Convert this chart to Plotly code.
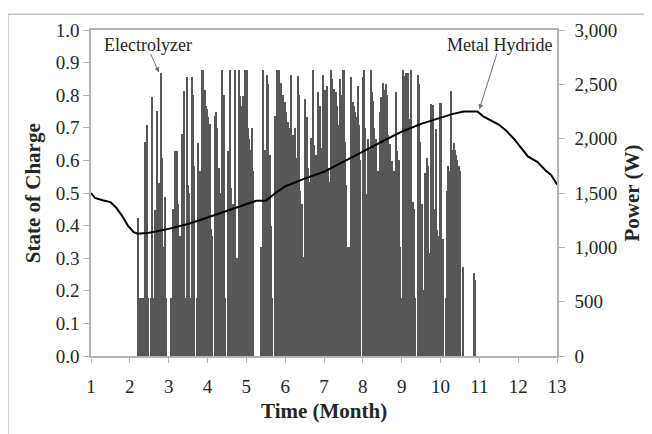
import plotly.graph_objects as go

# ---- data ----
# Metal hydride state of charge (month, SOC)
soc_month = [1.0, 1.1, 1.3, 1.5, 1.65, 1.8, 1.95, 2.1, 2.2, 2.5, 3.0, 3.5, 4.0, 4.5, 5.0,
             5.25, 5.5, 5.75, 6.0, 6.5, 7.0, 7.5, 8.0, 8.5, 9.0, 9.5, 10.0, 10.3, 10.6,
             10.95, 11.1, 11.3, 11.5, 11.7, 11.9, 12.05, 12.25, 12.5, 12.7, 12.85, 13.0]
soc_value = [0.500, 0.485, 0.478, 0.472, 0.455, 0.430, 0.400, 0.380, 0.375, 0.378, 0.390,
             0.405, 0.425, 0.445, 0.466, 0.476, 0.476, 0.500, 0.520, 0.544, 0.565, 0.595,
             0.627, 0.658, 0.688, 0.712, 0.732, 0.742, 0.750, 0.750, 0.735, 0.722, 0.710,
             0.690, 0.665, 0.642, 0.612, 0.595, 0.570, 0.555, 0.526]

# Electrolyzer power (W), one value per day starting at day 37 of the year
power_first_day = 37
power_w = [
    1267, 535, 0, 535, 535, 1966, 535, 2129, 535, 0,            # 37-46
    535, 2383, 535, 1343, 535, 2259, 1594, 535, 2600, 1820,     # 47-56
    1000, 1467, 535, 0, 0, 0, 535, 1355, 535, 1884,             # 57-66
    1884, 1400, 535, 1100, 2047, 1200, 2440, 535, 2564, 1578,   # 67-76
    1500, 535, 2570, 2400, 1748, 0, 535, 1956, 1700, 535,       # 77-86
    2628, 2628, 2450, 2300, 2274, 2200, 2138, 1170, 1100, 0,    # 87-96
    2213, 2247, 2100, 1730, 1500, 535, 2628, 2400, 535, 0,      # 97-106
    1884, 535, 2628, 1550, 1400, 1200, 2628, 900, 700, 2628,    # 107-116
    2395, 2300, 2395, 2395, 2628, 2628, 2094, 2000, 1900, 2094, # 117-126
    1700, 0, 0, 0, 0, 0, 1000, 535, 2628, 1900,                 # 127-136
    1850, 2590, 2500, 1850, 1200, 535, 0, 2213, 2150, 2628,     # 137-146
    2628, 2500, 2515, 2400, 2300, 2334, 2250, 2153, 2100, 1400, # 147-156
    2590, 2032, 1950, 2094, 1820, 2575, 2400, 1518, 1400, 914,  # 157-166
    535, 2365, 2200, 1730, 1600, 2002, 1900, 2628, 1942, 1850,  # 167-176
    1200, 2425, 2300, 1912, 1800, 2583, 2450, 1790, 2485, 1730, # 177-186
    1600, 2628, 2550, 2455, 2350, 2425, 2300, 2123, 2545, 2400, # 187-196
    2628, 2628, 1971, 1578, 1000, 1000, 535, 2564, 2334, 2300,  # 197-206
    2250, 2200, 2485, 2123, 1800, 0, 2564, 2628, 2100, 1488,    # 207-216
    2000, 1900, 2628, 2425, 2350, 2094, 2000, 535, 1700, 2247,  # 217-226
    2380, 2300, 2515, 2450, 2500, 2400, 2032, 1950, 535, 1790,  # 227-236
    1700, 1500, 2430, 1884, 1800, 1000, 535, 2628, 2300, 2575,  # 237-246
    2600, 2600, 2183, 2100, 2628, 1418, 1350, 535, 0, 2583,     # 247-256
    2500, 1971, 1400, 610, 610, 1684, 1820, 1750, 944, 2319,    # 257-266
    2250, 2310, 1349, 2088, 1155, 1100, 2325, 2325, 1080, 1080, # 267-276
    0, 535, 1518, 1748, 1700, 2440, 1900, 1956, 1900, 1850,     # 277-286
    1800, 1750, 1700, 0, 820, 0, 0, 0, 0, 0,                    # 287-296
    0, 0, 0, 760, 700,                                          # 297-301
]
days_per_month = 365 / 12
power_month = [1 + (power_first_day + i) / days_per_month for i in range(len(power_w))]

x_ticks = list(range(1, 14))

# ---- figure ----
FONT = "Liberation Serif"
AXIS_GRAY = "#b3b3b3"
TEXT = "#262626"

fig = go.Figure()
fig.add_trace(go.Bar(
    x=power_month, y=power_w, yaxis="y",
    width=0.8 / days_per_month,
    marker=dict(color="#575757", line=dict(width=0)),
    name="Electrolyzer", showlegend=False,
))
fig.add_trace(go.Scatter(
    x=soc_month, y=soc_value, yaxis="y2", mode="lines",
    line=dict(color="#000000", width=2),
    name="Metal Hydride", showlegend=False,
))

# the page body has an 8px margin, so the figure is 8px smaller than the window
fig.update_layout(
    width=644, height=426,
    margin=dict(l=83, r=95, t=18, b=78),
    paper_bgcolor="white", plot_bgcolor="white",
    font=dict(family=FONT, size=19, color=TEXT),
    bargap=0,
    xaxis=dict(
        range=[1, 13], tickvals=x_ticks, ticktext=[str(v) for v in x_ticks],
        showline=True, linecolor=AXIS_GRAY, linewidth=1.5, mirror=True,
        ticks="outside", ticklen=5, tickcolor=AXIS_GRAY, showgrid=False,
        zeroline=False, tickfont=dict(size=19, color=TEXT), ticklabelstandoff=7,
    ),
    yaxis=dict(
        side="right", range=[0, 3000], tickvals=[0, 500, 1000, 1500, 2000, 2500, 3000],
        tickformat=",", showline=True, linecolor=AXIS_GRAY, linewidth=1.5,
        ticks="outside", ticklen=6, tickcolor=AXIS_GRAY, showgrid=False,
        zeroline=False, tickfont=dict(size=19, color=TEXT), ticklabelstandoff=6,
    ),
    yaxis2=dict(
        side="left", overlaying="y", range=[0, 1],
        tickvals=[i / 10 for i in range(11)], tickformat=".1f",
        showline=True, linecolor=AXIS_GRAY, linewidth=1.5,
        ticks="outside", ticklen=6, tickcolor=AXIS_GRAY, showgrid=False,
        zeroline=False, tickfont=dict(size=19, color=TEXT),
    ),
    shapes=[
        dict(type="line", xref="paper", yref="paper", x0=-0.178, x1=1.3, y0=1.048, y1=1.048,
             line=dict(color="#c8c8c8", width=1.5)),
        dict(type="line", xref="paper", yref="paper", x0=-0.178, x1=-0.178, y0=-0.5, y1=1.048,
             line=dict(color="#c8c8c8", width=1.5)),
    ],
    annotations=[
        dict(text="<b>State of Charge</b>", xref="paper", yref="paper", x=-0.124, y=0.5,
             textangle=-90, showarrow=False, font=dict(size=21, color=TEXT),
             xanchor="center", yanchor="middle"),
        dict(text="<b>Power (W)</b>", xref="paper", yref="paper", x=1.162, y=0.5,
             textangle=-90, showarrow=False, font=dict(size=21, color=TEXT),
             xanchor="center", yanchor="middle"),
        dict(text="<b>Time (Month)</b>", xref="paper", yref="paper", x=0.5, y=-0.17,
             showarrow=False, font=dict(size=21, color=TEXT),
             xanchor="center", yanchor="middle"),
        dict(text="Electrolyzer", xref="x", yref="y2", x=2.48, y=0.955, showarrow=False,
             font=dict(size=18, color=TEXT), xanchor="center", yanchor="middle"),
        dict(text="", xref="x", yref="y2", x=2.75, y=0.87, ax=-9, ay=-20,
             showarrow=True, arrowhead=2, arrowsize=1, arrowwidth=1,
             arrowcolor="#707070", standoff=0),
        dict(text="Metal Hydride", xref="x", yref="y2", x=11.51, y=0.955, showarrow=False,
             font=dict(size=18, color=TEXT), xanchor="center", yanchor="middle"),
        dict(text="", xref="x", yref="y2", x=11.0, y=0.757, ax=18, ay=-57,
             showarrow=True, arrowhead=2, arrowsize=1, arrowwidth=1,
             arrowcolor="#707070", standoff=0),
    ],
)

fig.write_html("out.html")
